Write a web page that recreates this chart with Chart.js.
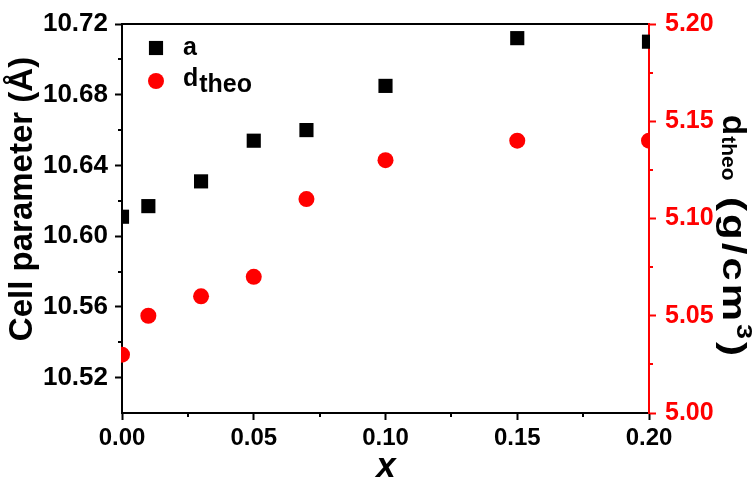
<!DOCTYPE html>
<html><head><meta charset="utf-8">
<script src="https://cdn.jsdelivr.net/npm/chart.js@4/dist/chart.umd.min.js"></script>
<style>html,body{margin:0;padding:0;background:#fff}#wrap{width:756px;height:486px;position:relative}</style>
</head><body><div id="wrap"><canvas id="c" width="756" height="486"></canvas></div>
<script>
const xValues=[0,0.01,0.03,0.05,0.07,0.10,0.15,0.20];
const aValues=[10.611,10.617,10.631,10.654,10.660,10.685,10.712,10.710];
const dValues=[5.030,5.050,5.060,5.070,5.110,5.130,5.140,5.140];
const xTicks=[0,0.05,0.10,0.15,0.20];
const xMinor=[0.025,0.075,0.125,0.175];
const aTicks=[10.52,10.56,10.60,10.64,10.68,10.72];
const aMinor=[10.54,10.58,10.62,10.66,10.70];
const dTicks=[5.00,5.05,5.10,5.15,5.20];
const dMinor=[5.025,5.075,5.125,5.175];
const FONT='"Liberation Sans", Arial, sans-serif';
const RED='#ff0000';

const decor={
  id:'decor',
  afterDraw(chart){
    const ctx=chart.ctx, ca=chart.chartArea;
    const sx=chart.scales.x, sy=chart.scales.y, sr=chart.scales.y2;
    ctx.save();
    ctx.lineWidth=2;
    ctx.strokeStyle='#000';
    ctx.beginPath();
    xMinor.forEach(v=>{const p=Math.round(sx.getPixelForValue(v));ctx.moveTo(p,ca.bottom);ctx.lineTo(p,ca.bottom+4);});
    aMinor.forEach(v=>{const p=Math.round(sy.getPixelForValue(v));ctx.moveTo(ca.left-4,p);ctx.lineTo(ca.left,p);});
    ctx.stroke();
    ctx.strokeStyle=RED;
    ctx.beginPath();
    dMinor.forEach(v=>{const p=Math.round(sr.getPixelForValue(v));ctx.moveTo(ca.right,p);ctx.lineTo(ca.right+4,p);});
    ctx.stroke();

    // legend
    ctx.fillStyle='#000';
    Chart.helpers.drawPoint(ctx,{pointStyle:'rect',radius:10,borderWidth:0},156,48);
    ctx.fillStyle=RED;
    Chart.helpers.drawPoint(ctx,{pointStyle:'circle',radius:8,borderWidth:0},156,81);
    ctx.fillStyle='#000';
    ctx.textBaseline='alphabetic';
    ctx.textAlign='left';
    ctx.font='bold 25px '+FONT;
    ctx.fillText('a',183,55);
    ctx.fillText('d',183,86);
    const dw=ctx.measureText('d').width;
    ctx.fillText('theo',183+dw+1,92);

    // left title
    ctx.save();
    ctx.translate(32,199);
    ctx.rotate(-Math.PI/2);
    ctx.textAlign='center';
    ctx.font='bold 33px '+FONT;
    ctx.fillText('Cell parameter (Å)',0,0);
    ctx.restore();

    // right title
    ctx.save();
    ctx.translate(723,115);
    ctx.rotate(Math.PI/2);
    ctx.textAlign='left';
    ctx.font='bold 33px '+FONT;
    ctx.fillText('d',0,0);
    let w=ctx.measureText('d').width;
    ctx.font='bold 21px '+FONT;
    ctx.fillText('theo',w+1,1);
    ctx.save();
    ctx.translate(82,0);
    ctx.scale(1,0.8);
    try{ctx.letterSpacing='3px';}catch(e){}
    ctx.font='bold 42px '+FONT;
    ctx.fillText('(g/cm',0,0);
    let w2=ctx.measureText('(g/cm').width;
    try{ctx.letterSpacing='0px';}catch(e){}
    ctx.font='bold 27px '+FONT;
    ctx.fillText('3',w2,-17);
    let w3=ctx.measureText('3').width;
    ctx.font='bold 42px '+FONT;
    ctx.fillText(')',w2+w3+3,0);
    ctx.restore();
    ctx.restore();

    // x title
    ctx.font='italic bold 35px '+FONT;
    ctx.textAlign='center';
    ctx.fillText('x',386,477);
    ctx.restore();
  }
};

const toPts=(ys)=>xValues.map((x,i)=>({x:x,y:ys[i]}));

new Chart(document.getElementById('c'),{
  type:'scatter',
  data:{datasets:[
    {label:'a',data:toPts(aValues),yAxisID:'y',xAxisID:'x',pointStyle:'rect',pointRadius:10,pointHoverRadius:10,backgroundColor:'#000',borderWidth:0,clip:1},
    {label:'dtheo',data:toPts(dValues),yAxisID:'y2',xAxisID:'x',pointStyle:'circle',pointRadius:8,pointHoverRadius:8,backgroundColor:RED,borderWidth:0,clip:1}
  ]},
  options:{
    responsive:false,animation:false,devicePixelRatio:1,
    layout:{padding:0},
    plugins:{legend:{display:false},tooltip:{enabled:false}},
    scales:{
      x:{type:'linear',position:'bottom',min:0,max:0.2,
        afterBuildTicks:s=>{s.ticks=xTicks.map(v=>({value:v}));},
        afterFit:s=>{s.height=73;},
        ticks:{callback:v=>Number(v).toFixed(2),color:'#000',font:{family:FONT,size:24,weight:'bold'},padding:4,maxRotation:0,autoSkip:false},
        grid:{drawOnChartArea:false,drawTicks:true,tickLength:7,tickWidth:2,color:'#000'},
        border:{color:'#000',width:2}},
      xTop:{type:'linear',position:'top',min:0,max:0.2,
        afterFit:s=>{s.height=20;},
        ticks:{display:false},grid:{display:false},
        border:{color:'#000',width:2}},
      y:{type:'linear',position:'left',min:10.50,max:10.72,
        afterBuildTicks:s=>{s.ticks=aTicks.map(v=>({value:v}));},
        afterFit:s=>{s.width=122;},
        ticks:{callback:v=>Number(v).toFixed(2),color:'#000',font:{family:FONT,size:26,weight:'bold'},padding:7,autoSkip:false},
        grid:{drawOnChartArea:false,drawTicks:true,tickLength:7,tickWidth:2,color:'#000'},
        border:{color:'#000',width:2}},
      y2:{type:'linear',position:'right',min:5.00,max:5.20,
        afterBuildTicks:s=>{s.ticks=dTicks.map(v=>({value:v}));},
        afterFit:s=>{s.width=107;},
        ticks:{callback:v=>Number(v).toFixed(2),color:RED,font:{family:FONT,size:25,weight:'bold'},padding:9,autoSkip:false},
        grid:{drawOnChartArea:false,drawTicks:true,tickLength:7,tickWidth:2,color:RED},
        border:{color:RED,width:2}}
    }
  },
  plugins:[decor]
});
</script>
</body></html>
